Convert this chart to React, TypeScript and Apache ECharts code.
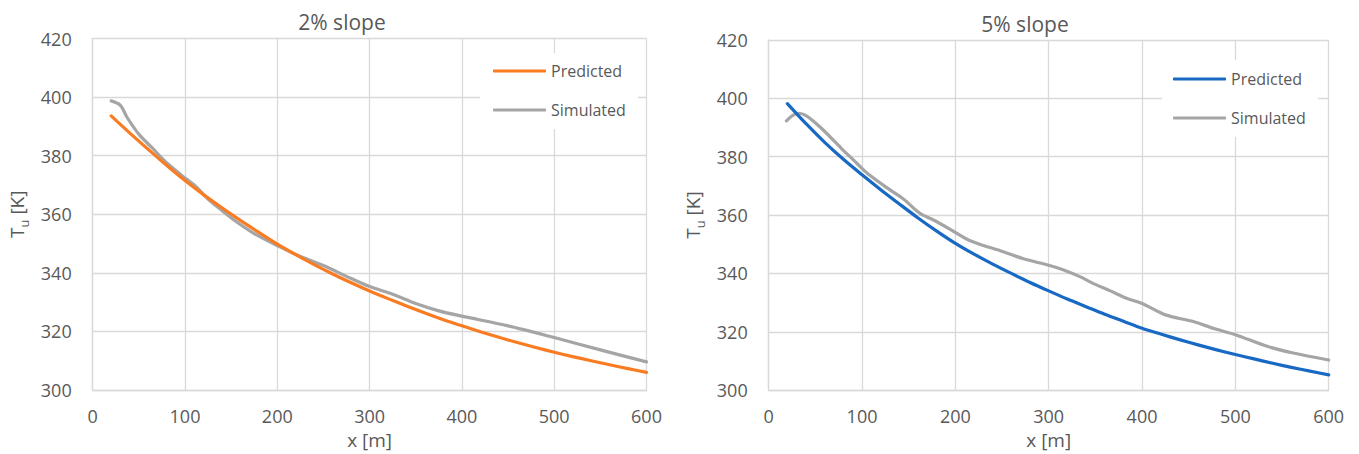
import React, { useEffect, useRef } from "react";
import * as echarts from "echarts";

// ---- Data ----
const titles = ["2% slope", "5% slope"];
const seriesNames = ["Predicted", "Simulated"];

// 2% slope
const predX2 = [20, 40, 60, 80, 100, 120, 140, 160, 180, 200, 220, 240, 260, 280, 300, 320, 340, 360, 380, 400, 420, 440, 460, 480, 500, 520, 540, 560, 580, 600];
const predT2 = [393.6, 387.8, 382.2, 376.7, 371.5, 366.7, 362.2, 357.9, 353.8, 349.8, 346.2, 342.8, 339.6, 336.6, 333.8, 331.2, 328.7, 326.3, 324.0, 321.9, 319.9, 318.0, 316.2, 314.5, 312.9, 311.4, 310.0, 308.6, 307.3, 306.0];
const simX2 = [20, 30, 37, 50, 64, 80, 100, 110, 125, 140, 155, 175, 200, 225, 250, 275, 300, 325, 350, 375, 400, 450, 500, 550, 600];
const simT2 = [398.7, 397.2, 393.2, 387.3, 382.8, 377.6, 372.4, 370.0, 365.2, 361.3, 357.6, 353.4, 349.3, 345.6, 342.5, 338.8, 335.3, 332.7, 329.5, 327.0, 325.2, 321.9, 317.9, 313.7, 309.6];

// 5% slope
const predX5 = [20, 40, 60, 80, 100, 120, 140, 160, 180, 200, 220, 240, 260, 280, 300, 320, 340, 360, 380, 400, 420, 440, 460, 480, 500, 520, 540, 560, 580, 600];
const predT5 = [398.2, 391.3, 384.9, 379.1, 373.8, 368.7, 363.8, 359.0, 354.5, 350.3, 346.6, 343.2, 340.0, 336.9, 334.0, 331.2, 328.6, 326.0, 323.6, 321.2, 319.2, 317.3, 315.5, 313.8, 312.2, 310.7, 309.2, 307.8, 306.5, 305.2];
const simX5 = [19, 25, 32, 40, 55, 73, 78, 91, 100, 108, 126, 144, 162, 176, 194, 212, 226, 248, 273, 300, 316, 334, 348, 366, 384, 400, 426, 455, 478, 500, 534, 562, 600];
const simT5 = [392.3, 394.0, 394.9, 394.1, 390.2, 384.5, 382.8, 378.8, 376.0, 373.7, 369.5, 365.6, 360.6, 358.4, 355.2, 351.8, 350.0, 347.8, 345.0, 342.8, 341.2, 338.8, 336.5, 334.0, 331.4, 329.7, 325.7, 323.5, 321.0, 319.0, 315.0, 312.7, 310.3];

const xMin = 0, xMax = 600, xStep = 100;
const yMin = 300, yMax = 420, yStep = 20;

const zip = (xs: number[], ys: number[]) => xs.map((x, i) => [x, ys[i]]);

const TEXT = "#595959";
const GRID = "#d9d9d9";
const FONT = "'Open Sans', 'Noto Sans', sans-serif";
const ORANGE = "#f97b22";
const BLUE = "#1769c4";
const GRAY = "#a5a5a5";

export default function App() {
  const ref = useRef<HTMLDivElement>(null);
  useEffect(() => {
    if (!ref.current) return;
    const chart = echarts.init(ref.current, undefined, { renderer: "svg" });

    const grids = [
      { left: 92.7, top: 38.5, width: 553.8, height: 352.5 },
      { left: 768.7, top: 40, width: 560, height: 354.3 },
    ];

    const xAxis = grids.map((_, i) => ({
      type: "value",
      gridIndex: i,
      min: xMin,
      max: xMax,
      interval: xStep,
      name: "x [m]",
      nameLocation: "middle",
      nameGap: i === 0 ? 40 : 37,
      nameTextStyle: { color: TEXT, fontSize: 19, fontFamily: FONT },
      axisLine: { show: true, lineStyle: { color: GRID, width: 1.3 } },
      axisTick: { show: false },
      axisLabel: { color: TEXT, fontSize: 18, fontFamily: FONT, margin: 17 },
      splitLine: { show: true, lineStyle: { color: GRID, width: 1.3 } },
    }));

    const yAxis = grids.map((_, i) => ({
      type: "value",
      gridIndex: i,
      min: yMin,
      max: yMax,
      interval: yStep,
      name: "{t|T}{s|u}{t| [K]}",
      nameLocation: "middle",
      nameRotate: 90,
      nameGap: 62,
      nameTextStyle: {
        color: TEXT,
        fontFamily: FONT,
        rich: {
          t: { fontSize: 19, color: TEXT, fontFamily: FONT, lineHeight: 24 },
          s: { fontSize: 13, color: TEXT, fontFamily: FONT, verticalAlign: "bottom", lineHeight: 28 },
        },
      },
      axisLine: { show: true, lineStyle: { color: GRID, width: 1.3 } },
      axisTick: { show: false },
      axisLabel: { color: TEXT, fontSize: 18, fontFamily: FONT, margin: 21 },
      splitLine: { show: true, lineStyle: { color: GRID, width: 1.3 } },
    }));

    const mkSeries = (name: string, data: number[][], color: string, idx: number) => ({
      type: "line",
      name,
      xAxisIndex: idx,
      yAxisIndex: idx,
      data,
      symbol: "none",
      showSymbol: false,
      smooth: 0.3,
      lineStyle: { color, width: 3.2, cap: "round", join: "round" },
      itemStyle: { color },
      z: color === GRAY ? 2 : 3,
    });

    const series = [
      mkSeries("Simulated", zip(simX2, simT2), GRAY, 0),
      mkSeries("Predicted", zip(predX2, predT2), ORANGE, 0),
      mkSeries("Simulated ", zip(simX5, simT5), GRAY, 1),
      mkSeries("Predicted ", zip(predX5, predT5), BLUE, 1),
    ];

    const legendBase = {
      orient: "vertical",
      icon: "roundRect",
      itemWidth: 53,
      itemHeight: 3.2,
      itemGap: 19,
      backgroundColor: "#ffffff",
      textStyle: { color: TEXT, fontSize: 16, fontFamily: FONT, lineHeight: 20 },
      formatter: (n: string) => n.trim(),
      selectedMode: false,
    };

    chart.setOption({
      animation: false,
      backgroundColor: "#ffffff",
      title: [
        { text: titles[0], left: 337, top: 6, textAlign: "center", textStyle: { color: TEXT, fontSize: 21, fontWeight: "normal", fontFamily: FONT } },
        { text: titles[1], left: 1020, top: 8, textAlign: "center", textStyle: { color: TEXT, fontSize: 21, fontWeight: "normal", fontFamily: FONT } },
      ],
      legend: [
        { ...legendBase, data: seriesNames, left: 480, top: 53, padding: [8, 12, 9, 13] },
        { ...legendBase, data: seriesNames.map((s) => s + " "), left: 1162, top: 60, padding: [9, 12, 9, 11] },
      ],
      grid: grids,
      xAxis,
      yAxis,
      series,
    });

    return () => chart.dispose();
  }, []);

  return (
    <div
      ref={ref}
      style={{ position: "absolute", left: 0, top: 0, width: 1359, height: 454, background: "#fff" }}
    />
  );
}
